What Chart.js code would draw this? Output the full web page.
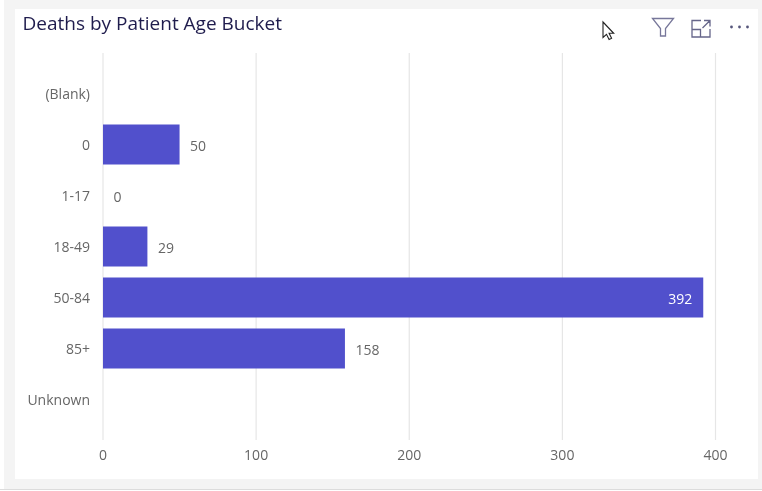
<!DOCTYPE html>
<html><head><meta charset="utf-8">
<script src="https://cdn.jsdelivr.net/npm/chart.js@4"></script>
<style>
html,body{margin:0;padding:0;width:762px;height:491px;overflow:hidden;background:#fff;font-family:"Open Sans",sans-serif}
#bg{position:absolute;left:4px;top:0;width:758px;height:489px;background:#f4f4f4}
#card{position:absolute;left:15px;top:9px;width:743px;height:470px;background:#fff}
#rule{position:absolute;left:0;top:489px;width:762px;height:1px;background:#dcdcdc}
#title{position:absolute;left:22.5px;top:10px;font-size:19px;line-height:26px;color:#1f1c4d;white-space:nowrap}
#c{position:absolute;left:0;top:0}
svg.i{position:absolute;left:0;top:0}
</style></head><body>
<div id="bg"></div><div id="card"></div><div id="rule"></div>
<canvas id="c" width="762" height="491" style="width:762px;height:491px"></canvas>
<div id="title">Deaths by Patient Age Bucket</div>
<svg class="i" width="762" height="491" fill="none">
<path d="M652.5 18.5h21l-8 10v7.5h-5v-7.5z" stroke="#77779a" stroke-width="1.3"/>
<path d="M701 20.5h-9v16.5h18v-8M692 29.5h8.5v7.5M704 20.5h6v6M709.5 21l-7 7" stroke="#66668a" stroke-width="1.3"/>
<circle cx="731.5" cy="27" r="1.4" fill="#55557a"/><circle cx="739.5" cy="27" r="1.4" fill="#55557a"/><circle cx="747.5" cy="27" r="1.4" fill="#55557a"/>
<path d="M603 22v15.5l3.5-3.2 2.6 5.2 2.5-1.2-2.5-5h4.6z" fill="#fff" stroke="#222" stroke-width="1.1"/>
</svg>
<script>
const categories = ["(Blank)", "0", "1-17", "18-49", "50-84", "85+", "Unknown"];
const deaths = [null, 50, 0, 29, 392, 158, null];
const xTicks = [0, 100, 200, 300, 400];

const tickFont = {family: '"Open Sans", sans-serif', size: 14};
const extendedGrid = {
  id: 'extendedGrid',
  beforeDatasetsDraw(chart) {
    const x = chart.scales.x, g = chart.ctx;
    g.save(); g.strokeStyle = '#e6e6e6'; g.lineWidth = 1.2;
    xTicks.forEach(v => {
      const p = x.getPixelForValue(v);
      g.beginPath(); g.moveTo(p, 53); g.lineTo(p, 440); g.stroke();
    });
    g.restore();
  }
};
const valueLabels = {
  id: 'valueLabels',
  afterDatasetsDraw(chart) {
    const g = chart.ctx, meta = chart.getDatasetMeta(0);
    g.save(); g.font = '14px "Open Sans", sans-serif'; g.textBaseline = 'middle';
    meta.data.forEach((bar, i) => {
      const v = deaths[i];
      if (v === null) return;
      const inside = v > 300;
      g.fillStyle = inside ? '#ffffff' : '#666666';
      g.textAlign = inside ? 'right' : 'left';
      g.fillText(String(v), bar.x + (inside ? -11 : 10.5), bar.y + 3);
    });
    g.restore();
  }
};
new Chart(document.getElementById('c'), {
  type: 'bar',
  data: {labels: categories, datasets: [{data: deaths, backgroundColor: '#5150cc', borderWidth: 0,
    barPercentage: 0.784, categoryPercentage: 1}]},
  options: {
    indexAxis: 'y', responsive: false, animation: false, devicePixelRatio: 1,
    layout: {padding: {top: 68, right: 46.5, bottom: 0, left: 0}},
    plugins: {legend: {display: false}, tooltip: {enabled: false}, title: {display: false}},
    scales: {
      x: {min: 0, max: 400, afterBuildTicks(s){ s.ticks = xTicks.map(value => ({value})); },
        grid: {display: false}, border: {display: false},
        ticks: {color: '#666666', font: tickFont, padding: 15, maxRotation: 0},
        afterFit(s){ s.height = 66; }},
      y: {grid: {display: false}, border: {display: false},
        ticks: {color: '#666666', font: tickFont, padding: 5, autoSkip: false, labelOffset: 2},
        afterFit(s){ s.width = 103; }}
    }
  },
  plugins: [extendedGrid, valueLabels]
});
</script>
</body></html>
